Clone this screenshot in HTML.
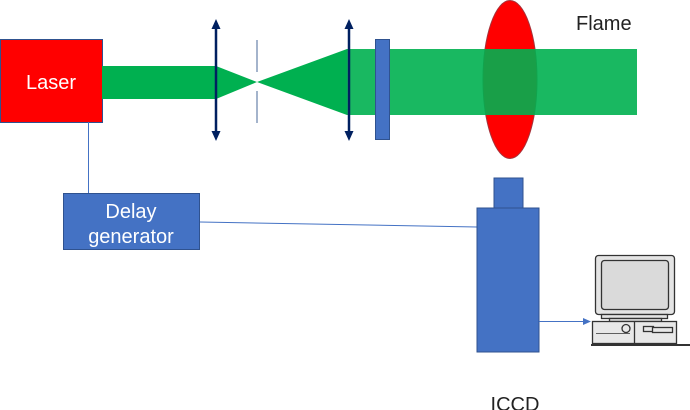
<!DOCTYPE html>
<html><head><meta charset="utf-8"><style>
html,body{margin:0;padding:0;background:#fff;}
svg{display:block;}
text{font-family:"Liberation Sans",sans-serif;}
</style></head><body>
<svg width="690" height="410" viewBox="0 0 690 410" xmlns="http://www.w3.org/2000/svg">
<!-- laser -->
<rect x="0.5" y="39.5" width="102" height="83" fill="#FF0000" stroke="#2F528F" stroke-width="1"/>
<text x="51" y="89" font-size="20" fill="#fff" text-anchor="middle">Laser</text>
<!-- narrow beam -->
<rect x="102" y="66" width="114" height="33" fill="#00B050"/>
<polygon points="216,66 257,82 216,99" fill="#00B050"/>
<polygon points="257,82 347,49 347,115" fill="#00B050"/>
<!-- flame -->
<ellipse cx="510" cy="79.5" rx="27" ry="79" fill="#FF0000" stroke="#A5323A" stroke-width="1"/>
<!-- wide beam -->
<rect x="347" y="49" width="290" height="66" fill="#00B050" fill-opacity="0.9"/>
<!-- pinhole -->
<line x1="257" y1="40" x2="257" y2="72" stroke="#4A6A9A" stroke-width="1"/>
<line x1="257" y1="91" x2="257" y2="123" stroke="#4A6A9A" stroke-width="1"/>
<!-- lenses -->
<g stroke="#002060" stroke-width="2.5" fill="#002060">
<line x1="216" y1="27" x2="216" y2="133"/>
<line x1="349" y1="27" x2="349" y2="133"/>
</g>
<g fill="#002060">
<polygon points="216,19 211.5,29 220.5,29"/>
<polygon points="216,141 211.5,131 220.5,131"/>
<polygon points="349,19 344.5,29 353.5,29"/>
<polygon points="349,141 344.5,131 353.5,131"/>
</g>
<!-- plate -->
<rect x="375.5" y="39.5" width="14" height="100" fill="#4472C4" stroke="#2F528F" stroke-width="1"/>
<text x="576" y="30" font-size="20" fill="#222">Flame</text>
<!-- laser to delay -->
<line x1="88.5" y1="122" x2="88.5" y2="193" stroke="#4472C4" stroke-width="1"/>
<!-- delay generator -->
<rect x="63.5" y="193.5" width="136" height="56" fill="#4472C4" stroke="#2F528F" stroke-width="1"/>
<text x="131" y="218" font-size="20" fill="#fff" text-anchor="middle">Delay</text>
<text x="131" y="243" font-size="20" fill="#fff" text-anchor="middle">generator</text>
<line x1="200" y1="222" x2="477" y2="227" stroke="#4472C4" stroke-width="1"/>
<!-- ICCD -->
<rect x="494" y="178" width="29" height="30" fill="#4472C4" stroke="#2F528F" stroke-width="1"/>
<rect x="477" y="208" width="62" height="144" fill="#4472C4" stroke="#2F528F" stroke-width="1"/>
<text x="515" y="411" font-size="20" fill="#222" text-anchor="middle">ICCD</text>
<!-- arrow to computer -->
<line x1="539" y1="321.5" x2="584" y2="321.5" stroke="#4472C4" stroke-width="1"/>
<polygon points="591,321.5 583,318 583,325" fill="#4472C4"/>
<!-- computer -->
<g stroke="#333" stroke-width="1.3">
<rect x="595.5" y="255.5" width="79" height="59" rx="3" fill="#E4E4E4"/>
<rect x="601.5" y="260.5" width="67" height="49" rx="3" fill="#DADADA"/>
<rect x="601.5" y="314.5" width="66" height="4" fill="#E4E4E4"/>
<rect x="609.5" y="318.5" width="52" height="3" fill="#E4E4E4"/>
<rect x="592.5" y="321.5" width="84" height="22" fill="#E8E8E8"/>
<line x1="634.5" y1="321.5" x2="634.5" y2="343.5"/>
<circle cx="626" cy="328.5" r="4" fill="#E8E8E8"/>
<line x1="596" y1="333.5" x2="630" y2="333.5" stroke-width="0.8"/>
<rect x="643.5" y="326.5" width="10" height="5" fill="#E8E8E8"/>
<rect x="652.5" y="327.5" width="20" height="5" fill="#E8E8E8"/>
</g>
<line x1="591" y1="345" x2="690" y2="345" stroke="#333" stroke-width="2"/>
</svg>
</body></html>
